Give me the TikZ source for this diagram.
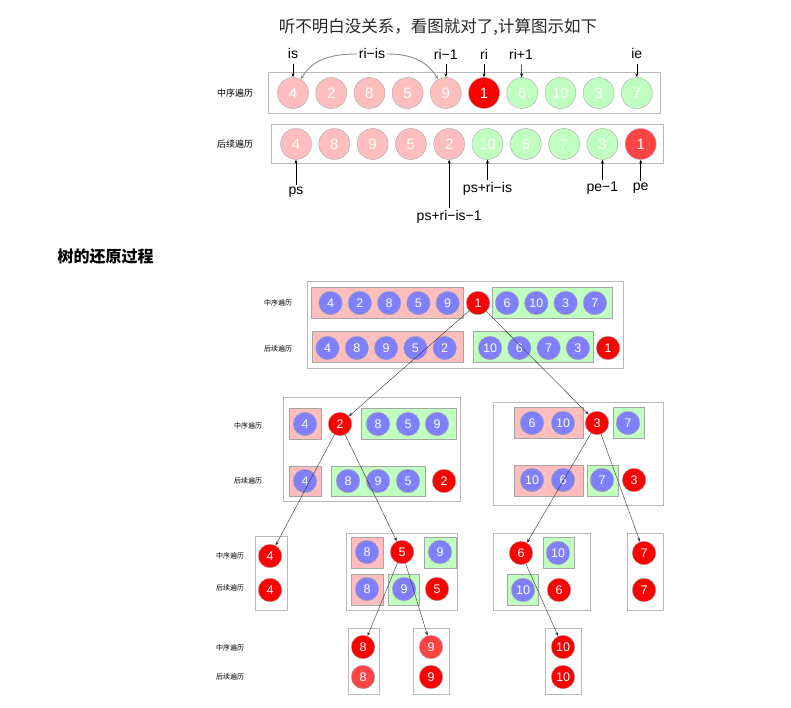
\documentclass[tikz,border=0pt]{standalone}
\usepackage{fontspec}
\setmainfont{Liberation Sans}
\newfontfamily\cjk{Noto Sans CJK SC}
\usetikzlibrary{arrows.meta}
\definecolor{mpink}{RGB}{255,190,190}
\definecolor{mgreen}{RGB}{192,255,192}
\definecolor{mred}{RGB}{255,0,0}
\definecolor{mlred}{RGB}{255,68,68}
\definecolor{mblue}{RGB}{128,128,255}

\begin{document}
\begin{tikzpicture}[x=1pt,y=-1pt]
  \tikzset{ball/.style={circle,draw=gray!70,fill=#1,minimum size=23.5pt,inner sep=0pt,text=white,font=\fontsize{12.5}{12.5}\selectfont}}
  \tikzset{big ball/.style={ball=#1,minimum size=31pt,font=\fontsize{15}{15}\selectfont}}
  \tikzset{part/.style={draw=gray!70,fill=#1}}
  \tikzset{frame/.style={draw=gray!55,line width=0.7pt}}
  \tikzset{order/.style={font=\cjk\fontsize{7}{7}\selectfont}}
  \tikzset{index/.style={font=\fontsize{14}{14}\selectfont,inner sep=2pt}}
  \tikzset{pointer/.style={-{Stealth[length=4pt,width=3pt]},line width=0.5pt}}
  \useasboundingbox (0,0) rectangle (791,708);

  \node[font=\cjk\fontsize{16.5}{16.5}\selectfont,text=black!85] (title) at (438,27) {听不明白没关系，看图就对了,计算图示如下};

  % in-order row
  \draw[frame] (268,72) rectangle (660,113);
  \node[order,font=\cjk\fontsize{9}{9}\selectfont] (tinlabel) at (235,93) {中序遍历};
  \node[big ball=mpink] (tin1) at (293,93) {4};
  \node[big ball=mpink] (tin2) at (331.2,93) {2};
  \node[big ball=mpink] (tin3) at (369.4,93) {8};
  \node[big ball=mpink] (tin4) at (407.6,93) {5};
  \node[big ball=mpink] (tin5) at (445.8,93) {9};
  \node[big ball=mred] (tin6) at (484,93) {1};
  \node[big ball=mgreen] (tin7) at (522.2,93) {6};
  \node[big ball=mgreen] (tin8) at (560.4,93) {10};
  \node[big ball=mgreen] (tin9) at (598.6,93) {3};
  \node[big ball=mgreen] (tin10) at (636.8,93) {7};

  \node[index] (lis) at (293,54) {is};
  \node[index] (lrs) at (372,54) {ri−is};
  \node[index] (lr1) at (445.8,54) {ri−1};
  \node[index] (lri) at (484,54) {ri};
  \node[index] (lrp) at (521,54) {ri+1};
  \node[index] (lie) at (636.8,54) {ie};
  \draw[pointer,shorten <=3pt] (lis) -- (tin1);
  \draw[pointer,shorten <=3pt] (lr1) -- (tin5);
  \draw[pointer,shorten <=3pt] (lri) -- (tin6);
  \draw[pointer,shorten <=3pt] (lrp) -- (tin7);
  \draw[pointer,shorten <=3pt] (lie) -- (tin10);
  \draw[pointer,gray!90,line width=0.9pt] (lrs.west) to[out=180,in=60] (tin1.60);
  \draw[pointer,gray!90,line width=0.9pt] (lrs.east) to[out=0,in=120] (tin5.120);

  % post-order row
  \draw[frame] (271,124) rectangle (663,163);
  \node[order,font=\cjk\fontsize{9}{9}\selectfont] (tpostlabel) at (235,144) {后续遍历};
  \node[big ball=mpink] (tpost1) at (296,144) {4};
  \node[big ball=mpink] (tpost2) at (334.3,144) {8};
  \node[big ball=mpink] (tpost3) at (372.6,144) {9};
  \node[big ball=mpink] (tpost4) at (410.9,144) {5};
  \node[big ball=mpink] (tpost5) at (449.2,144) {2};
  \node[big ball=mgreen] (tpost6) at (487.5,144) {10};
  \node[big ball=mgreen] (tpost7) at (525.8,144) {6};
  \node[big ball=mgreen] (tpost8) at (564.1,144) {7};
  \node[big ball=mgreen] (tpost9) at (602.4,144) {3};
  \node[big ball=mlred] (tpost10) at (640.7,144) {1};

  \node[index] (lps) at (296,192) {ps};
  \node[index] (lpsri1) at (449.2,217) {ps+ri−is−1};
  \node[index] (lpsri) at (487.5,189) {ps+ri−is};
  \node[index] (lpe1) at (602.4,188) {pe−1};
  \node[index] (lpe) at (640.7,188) {pe};
  \draw[pointer] (lps) -- (tpost1);
  \draw[pointer] (lpsri1) -- (tpost5);
  \draw[pointer] (lpsri) -- (tpost6);
  \draw[pointer] (lpe1) -- (tpost9);
  \draw[pointer] (lpe) -- (tpost10);

  \node[anchor=west,font=\cjk\bfseries\fontsize{16}{16}\selectfont] (heading) at (54,256) {树的还原过程};

  % level 1
  \draw[frame] (307,281) rectangle (623,368);
  \node[order] (alabel1) at (278,303) {中序遍历};
  \node[order] (alabel2) at (278,349) {后续遍历};
  \draw[part=mpink] (311,287) rectangle (463,318);
  \node[ball=mblue] (ain4) at (330.5,303) {4};
  \node[ball=mblue] (ain2) at (359.8,303) {2};
  \node[ball=mblue] (ain8) at (389.1,303) {8};
  \node[ball=mblue] (ain5) at (418.4,303) {5};
  \node[ball=mblue] (ain9) at (447.7,303) {9};
  \node[ball=mred] (aroot) at (478,303) {1};
  \draw[part=mgreen] (492,287) rectangle (612,318);
  \node[ball=mblue] (ain6) at (507,303) {6};
  \node[ball=mblue] (ain10) at (536.3,303) {10};
  \node[ball=mblue] (ain3) at (565.6,303) {3};
  \node[ball=mblue] (ain7) at (594.9,303) {7};
  \draw[part=mpink] (312,331) rectangle (463,362);
  \node[ball=mblue] (apost4) at (327.5,348) {4};
  \node[ball=mblue] (apost8) at (356.8,348) {8};
  \node[ball=mblue] (apost9) at (386.1,348) {9};
  \node[ball=mblue] (apost5) at (415.4,348) {5};
  \node[ball=mblue] (apost2) at (444.7,348) {2};
  \draw[part=mgreen] (473,331) rectangle (593,362);
  \node[ball=mblue] (apost10) at (490,348) {10};
  \node[ball=mblue] (apost6) at (519.3,348) {6};
  \node[ball=mblue] (apost7) at (548.6,348) {7};
  \node[ball=mblue] (apost3) at (577.9,348) {3};
  \node[ball=mred] (apost1) at (608,348) {1};

  % level 2, left
  \draw[frame] (283,397) rectangle (460,501);
  \node[order] (blabel1) at (248,426) {中序遍历};
  \node[order] (blabel2) at (248,481) {后续遍历};
  \draw[part=mpink] (289,408) rectangle (321,439);
  \node[ball=mblue] (bin4) at (305,424) {4};
  \node[ball=mred] (broot) at (340,424) {2};
  \draw[part=mgreen] (361,408) rectangle (456,439);
  \node[ball=mblue] (bin8) at (378,424) {8};
  \node[ball=mblue] (bin5) at (408,424) {5};
  \node[ball=mblue] (bin9) at (437,424) {9};
  \draw[part=mpink] (289,466) rectangle (321,496);
  \node[ball=mblue] (bpost4) at (305,481) {4};
  \draw[part=mgreen] (331,466) rectangle (425,496);
  \node[ball=mblue] (bpost8) at (348,481) {8};
  \node[ball=mblue] (bpost9) at (378,481) {9};
  \node[ball=mblue] (bpost5) at (408,481) {5};
  \node[ball=mred] (bpost2) at (444,481) {2};

  % level 2, right
  \draw[frame] (493,402) rectangle (663,505);
  \draw[part=mpink] (514,407) rectangle (583,438);
  \node[ball=mblue] (cin6) at (532,423) {6};
  \node[ball=mblue] (cin10) at (563,423) {10};
  \node[ball=mred] (croot) at (597,423) {3};
  \draw[part=mgreen] (613,407) rectangle (644,438);
  \node[ball=mblue] (cin7) at (628,423) {7};
  \draw[part=mpink] (514,465) rectangle (583,496);
  \node[ball=mblue] (cpost10) at (532,480) {10};
  \node[ball=mblue] (cpost6) at (563,480) {6};
  \draw[part=mgreen] (587,465) rectangle (618,496);
  \node[ball=mblue] (cpost7) at (602,480) {7};
  \node[ball=mred] (cpost3) at (634,480) {3};

  % level 3
  \node[order] (dlabel1) at (230,556) {中序遍历};
  \node[order] (dlabel2) at (230,588) {后续遍历};
  \draw[frame] (255,536) rectangle (287,610);
  \node[ball=mred] (droot) at (270,556) {4};
  \node[ball=mred] (dpost4) at (270,590) {4};
  \draw[frame] (346,533) rectangle (457,610);
  \draw[part=mpink] (351,537) rectangle (383,568);
  \node[ball=mblue] (ein8) at (367,552) {8};
  \node[ball=mred] (eroot) at (402,552) {5};
  \draw[part=mgreen] (424,537) rectangle (456,568);
  \node[ball=mblue] (ein9) at (440,552) {9};
  \draw[part=mpink] (351,574) rectangle (383,605);
  \node[ball=mblue] (epost8) at (367,589) {8};
  \draw[part=mgreen] (388,574) rectangle (419,605);
  \node[ball=mblue] (epost9) at (404,589) {9};
  \node[ball=mred] (epost5) at (437,589) {5};
  \draw[frame] (493,533) rectangle (590,610);
  \node[ball=mred] (froot) at (521,553) {6};
  \draw[part=mgreen] (543,537) rectangle (574,568);
  \node[ball=mblue] (fin10) at (558,553) {10};
  \draw[part=mgreen] (507,574) rectangle (538,605);
  \node[ball=mblue] (fpost10) at (523,590) {10};
  \node[ball=mred] (fpost6) at (559,590) {6};
  \draw[frame] (627,533) rectangle (663,610);
  \node[ball=mred] (groot) at (644,553) {7};
  \node[ball=mred] (gpost7) at (644,590) {7};

  % level 4
  \node[order] (hlabel1) at (230,648) {中序遍历};
  \node[order] (hlabel2) at (230,677) {后续遍历};
  \draw[frame] (348,628) rectangle (379,694);
  \node[ball=mred] (hroot) at (363,647) {8};
  \node[ball=mlred] (hpost8) at (363,677) {8};
  \draw[frame] (413,628) rectangle (449,694);
  \node[ball=mlred] (iroot) at (431,647) {9};
  \node[ball=mred] (ipost9) at (431,677) {9};
  \draw[frame] (545,628) rectangle (581,694);
  \node[ball=mred] (jroot) at (563,647) {10};
  \node[ball=mred] (jpost10) at (563,677) {10};

  % tree edges
  \draw[pointer,line width=0.4pt,black!80] (aroot) -- (broot);
  \draw[pointer,line width=0.4pt,black!80] (aroot) -- (croot);
  \draw[pointer,line width=0.4pt,black!80] (broot) -- (droot);
  \draw[pointer,line width=0.4pt,black!80] (broot) -- (eroot);
  \draw[pointer,line width=0.4pt,black!80] (croot) -- (froot);
  \draw[pointer,line width=0.4pt,black!80] (croot) -- (groot);
  \draw[pointer,line width=0.4pt,black!80] (eroot) -- (hroot);
  \draw[pointer,line width=0.4pt,black!80] (eroot) -- (iroot);
  \draw[pointer,line width=0.4pt,black!80] (froot) -- (jroot);
\end{tikzpicture}
\end{document}
